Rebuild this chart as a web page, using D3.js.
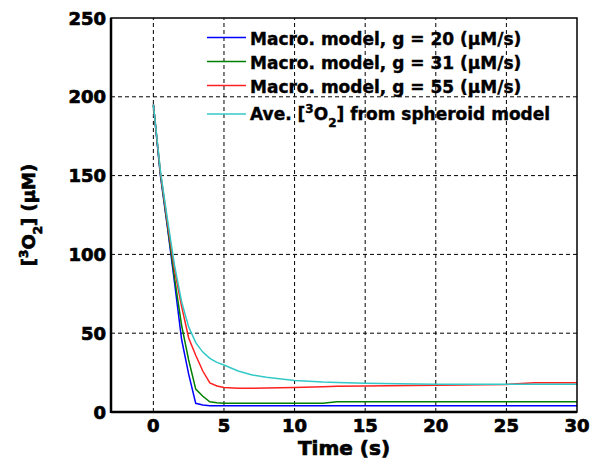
<!DOCTYPE html>
<html>
<head>
<meta charset="utf-8">
<script src="https://cdn.jsdelivr.net/npm/d3@7"></script>
<style>
  body { margin: 0; background: #fff; }
  text { font-family: "DejaVu Sans", sans-serif; font-weight: bold; fill: #000; }
  .heavy { stroke: #000; stroke-width: 0.7px; }
  .legend text { stroke: #000; stroke-width: 0.4px; }
</style>
</head>
<body>
<div id="chart"></div>
<script>
// values
const time = [0, 0.5, 1, 1.5, 2, 2.5, 3, 3.5, 4, 4.5, 5, 6, 7, 8, 10, 12, 13, 15, 20, 25, 27, 30]
const macro20 = [195, 150, 117, 82, 46, 24, 5.5, 4.4, 4, 4, 4, 4, 4, 4, 4, 4, 4, 4, 4, 4, 4, 4]
const macro31 = [195, 151, 118, 85, 55, 33, 14.5, 10, 6.5, 5.8, 5.5, 5.5, 5.5, 5.5, 5.5, 5.5, 6.5, 6.5, 6.5, 6.5, 6.5, 6.5]
const macro55 = [195, 152, 120, 90, 67, 47, 36, 26, 18.5, 16.5, 15.5, 15, 15, 15.2, 15.5, 16, 16.3, 16.5, 17, 17.5, 18.5, 18.5]
const spheroid = [195, 153, 122, 93, 70, 54, 44, 38, 34, 31.5, 29.8, 26, 23.5, 22, 20, 19, 18.7, 18.2, 17.6, 17.6, 17.6, 17.6]

const xTicks = [0, 5, 10, 15, 20, 25, 30]
const yTicks = [0, 50, 100, 150, 200, 250]

const series = [
	{name: "g20", values: macro20, color: "#0000ff", label: "Macro. model, g = 20 (\u03bcM/s)"},
	{name: "g31", values: macro31, color: "#008000", label: "Macro. model, g = 31 (\u03bcM/s)"},
	{name: "g55", values: macro55, color: "#ff2020", label: "Macro. model, g = 55 (\u03bcM/s)"},
	{name: "sph", values: spheroid, color: "#33c8c8", label: null}
]

const width = 591, height = 459
const margin = {top: 18, right: 14, bottom: 47, left: 111}

const svg = d3.select("#chart")
	.append("svg")
	.attr("width", width)
	.attr("height", height)

const x = d3.scaleLinear().domain([-3, 30]).range([margin.left, width - margin.right])
const y = d3.scaleLinear().domain([0, 250]).range([height - margin.bottom, margin.top])

// dashed grid
svg.append("g")
	.selectAll("line")
	.data(xTicks.filter(d => d < 30))
	.enter()
	.append("line")
		.attr("x1", d => x(d)).attr("x2", d => x(d))
		.attr("y1", y(0)).attr("y2", y(250))
		.attr("stroke", "#000")
		.attr("stroke-width", 1)
		.attr("stroke-dasharray", "4,3")

svg.append("g")
	.selectAll("line")
	.data(yTicks.filter(d => d > 0 && d < 250))
	.enter()
	.append("line")
		.attr("x1", x(-3)).attr("x2", x(30))
		.attr("y1", d => y(d)).attr("y2", d => y(d))
		.attr("stroke", "#000")
		.attr("stroke-width", 1)
		.attr("stroke-dasharray", "4,3")

// curves
const line = d3.line()
	.x((d, i) => x(time[i]))
	.y(d => y(d))

svg.append("g")
	.selectAll("path")
	.data(series)
	.enter()
	.append("path")
		.attr("d", d => line(d.values))
		.attr("fill", "none")
		.attr("stroke", d => d.color)
		.attr("stroke-width", 1.5)

// box
svg.append("rect")
	.attr("x", x(-3)).attr("y", y(250))
	.attr("width", x(30) - x(-3))
	.attr("height", y(0) - y(250))
	.attr("fill", "none")
	.attr("stroke", "#000")
	.attr("stroke-width", 1.5)

svg.append("line")
	.attr("x1", x(-3)).attr("x2", x(-3))
	.attr("y1", y(250)).attr("y2", y(0) + 1)
	.attr("stroke", "#000").attr("stroke-width", 2.5)
svg.append("line")
	.attr("x1", x(-3)).attr("x2", x(30))
	.attr("y1", y(0)).attr("y2", y(0))
	.attr("stroke", "#000").attr("stroke-width", 2.5)

// tick labels
svg.append("g")
	.selectAll("text")
	.data(xTicks)
	.enter()
	.append("text")
		.attr("class", "heavy")
		.attr("x", d => x(d))
		.attr("y", 432)
		.attr("text-anchor", "middle")
		.style("font-size", "18px")
		.text(d => d)

svg.append("g")
	.selectAll("text")
	.data(yTicks)
	.enter()
	.append("text")
		.attr("class", "heavy")
		.attr("x", 106)
		.attr("y", d => y(d) + 6.5)
		.attr("text-anchor", "end")
		.style("font-size", "18px")
		.text(d => d)

// axis titles
svg.append("text")
	.attr("class", "heavy")
	.attr("x", (x(-3) + x(30)) / 2)
	.attr("y", 455)
	.attr("text-anchor", "middle")
	.style("font-size", "20px")
	.text("Time (s)")

const ylab = svg.append("text")
	.attr("class", "heavy")
	.attr("transform", `translate(35, ${(y(0) + y(250)) / 2}) rotate(-90)`)
	.attr("text-anchor", "middle")
	.style("font-size", "18px")
ylab.append("tspan").text("[")
ylab.append("tspan").attr("baseline-shift", "super").style("font-size", "12px").text("3")
ylab.append("tspan").text("O")
ylab.append("tspan").attr("baseline-shift", "sub").style("font-size", "12px").text("2")
ylab.append("tspan").text("] (\u03bcM)")

// legend
const legendRows = [
	{y: 37.5, base: 45},
	{y: 61.5, base: 68.5},
	{y: 85.5, base: 92.5},
	{y: 114, base: 119.5}
]

const legend = svg.append("g").attr("class", "legend")
series.forEach((s, i) => {
	legend.append("line")
		.attr("x1", 207).attr("x2", 246)
		.attr("y1", legendRows[i].y).attr("y2", legendRows[i].y)
		.attr("stroke", s.color)
		.attr("stroke-width", 1.5)
	const t = legend.append("text")
		.attr("x", 250)
		.attr("y", legendRows[i].base)
		.style("font-size", "17px")
	if (s.label) {
		t.text(s.label)
	} else {
		t.append("tspan").text("Ave. [")
		t.append("tspan").attr("baseline-shift", "super").style("font-size", "12px").text("3")
		t.append("tspan").text("O")
		t.append("tspan").attr("baseline-shift", "sub").style("font-size", "12px").text("2")
		t.append("tspan").text("] from spheroid model")
	}
})
</script>
</body>
</html>
